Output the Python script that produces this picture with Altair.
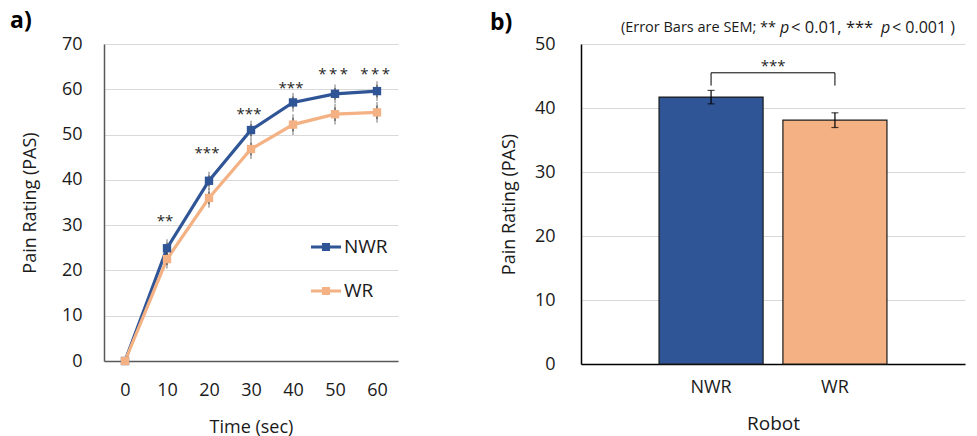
import altair as alt
import pandas as pd

# ---------------- data ----------------
times = [0, 10, 20, 30, 40, 50, 60]
nwr_mean = [0, 24.9, 39.8, 51.0, 57.1, 59.0, 59.6]
wr_mean = [0, 22.5, 36.0, 46.8, 52.2, 54.5, 54.9]
nwr_sem = [0, 1.2, 1.2, 1.3, 1.3, 1.3, 1.4]
wr_sem = [0, 1.3, 1.4, 1.4, 1.5, 1.5, 1.5]
groups = ["NWR", "WR"]
colors = ["#2F5597", "#F4B183"]

sig_times = [10, 20, 30, 40, 50, 60]
sig_labels = ["**", "***", "***", "***", "*\u2009*\u2009*", "*\u2009*\u2009*"]
sig_y = [31.6, 46.6, 55.2, 61.0, 64.1, 64.1]

bar_means = [41.7, 38.1]
bar_sem = [1.05, 1.15]
bracket_low = 43.5
bracket_high = 45.5
bracket_label_y = 47.0

FONT = "Open Sans"

# ---------------- panel a ----------------
rows = []
for g, m, s in [("NWR", nwr_mean, nwr_sem), ("WR", wr_mean, wr_sem)]:
    for t, v, e in zip(times, m, s):
        rows.append({"Time": t, "Group": g, "Mean": v, "Lo": v - e, "Hi": v + e, "SEM": e})
df_a = pd.DataFrame(rows)
df_err = df_a[df_a["SEM"] > 0]
df_sig = pd.DataFrame({"Time": sig_times, "Label": sig_labels, "Y": sig_y})

xa = alt.X("Time:Q", scale=alt.Scale(domain=[-5, 65], nice=False, zero=False),
           axis=alt.Axis(values=times, title="Time (sec)", grid=False, ticks=False,
                         labelFontSize=18, labelPadding=20, titleFontSize=18,
                         titlePadding=19, titleFontWeight="normal",
                         domainColor="#595959", domainWidth=1.5,
                         labelColor="#1a1a1a", titleColor="#1a1a1a"))
ya_scale = alt.Scale(domain=[0, 70], nice=False)
ya_axis = alt.Axis(values=[0, 10, 20, 30, 40, 50, 60, 70], title="Pain Rating (PAS)",
                   grid=True, gridColor="#d9d9d9", ticks=False, labelFontSize=18,
                   labelPadding=22, titleFontSize=18, titlePadding=22,
                   titleFontWeight="normal", domainColor="#595959", domainWidth=1.5,
                   labelColor="#1a1a1a", titleColor="#1a1a1a")

legend_a = alt.Legend(title=None, orient="none", legendX=207, legendY=188,
                      symbolType="M-1,-0.1H1V0.1H-1Z M-0.27,-0.27H0.27V0.27H-0.27Z",
                      symbolSize=900, symbolStrokeWidth=0, labelFontSize=19,
                      labelColor="#1a1a1a", rowPadding=19, labelOffset=3, padding=0,
                      symbolOpacity=1)
color_scale = alt.Scale(domain=groups, range=colors)

base_a = alt.Chart(df_a)
lines = base_a.mark_line(strokeWidth=3.2).encode(
    x=xa, y=alt.Y("Mean:Q", scale=ya_scale, axis=ya_axis),
    stroke=alt.Stroke("Group:N", scale=color_scale, legend=legend_a),
    detail="Group:N")
errs = alt.Chart(df_err).mark_rule(color="#404040", strokeWidth=1).encode(
    x="Time:Q", y="Lo:Q", y2="Hi:Q")
caps_lo = alt.Chart(df_err).mark_tick(color="#404040", thickness=1, size=7).encode(
    x="Time:Q", y="Lo:Q")
caps_hi = alt.Chart(df_err).mark_tick(color="#404040", thickness=1, size=7).encode(
    x="Time:Q", y="Hi:Q")
points = base_a.mark_square(size=70, opacity=1, filled=True).encode(
    x="Time:Q", y="Mean:Q",
    fill=alt.Fill("Group:N", scale=color_scale, legend=legend_a))
sig = alt.Chart(df_sig).mark_text(fontSize=15, font=FONT, color="#262626",
                                  baseline="alphabetic", dy=8, dx=-2).encode(
    x="Time:Q", y="Y:Q", text="Label:N")
label_a = alt.Chart(pd.DataFrame({"t": ["a)"]})).mark_text(
    fontSize=23, fontWeight="bold", font=FONT, align="left", baseline="middle",
    color="black").encode(x=alt.value(-94), y=alt.value(-23), text="t:N")

panel_a = alt.layer(lines, errs, caps_lo, caps_hi, points, sig, label_a).properties(
    width=294, height=317)

# ---------------- panel b ----------------
df_b = pd.DataFrame({"Robot": groups, "Mean": bar_means,
                     "Lo": [m - s for m, s in zip(bar_means, bar_sem)],
                     "Hi": [m + s for m, s in zip(bar_means, bar_sem)]})
df_br = pd.DataFrame({"Robot": ["NWR", "NWR", "WR", "WR"],
                      "Y": [bracket_low, bracket_high, bracket_high, bracket_low],
                      "o": [0, 1, 2, 3]})

xb = alt.X("Robot:N", sort=groups,
           scale=alt.Scale(paddingInner=0.16, paddingOuter=0.63),
           axis=alt.Axis(title="Robot", labelAngle=0, ticks=False, labelFontSize=18,
                         labelPadding=14, titleFontSize=19, titlePadding=18,
                         titleFontWeight="normal", domainColor="black", domainWidth=1.5,
                         labelColor="#1a1a1a", titleColor="#1a1a1a"))
yb = alt.Y("Mean:Q", scale=alt.Scale(domain=[0, 50], nice=False),
           axis=alt.Axis(values=[0, 10, 20, 30, 40, 50], title="Pain Rating (PAS)",
                         grid=True, gridColor="#d9d9d9", ticks=False, labelFontSize=18,
                         labelPadding=26, titleFontSize=18, titlePadding=16,
                         titleFontWeight="normal", domainColor="black", domainWidth=1.5,
                         labelColor="#1a1a1a", titleColor="#1a1a1a"))

bars = alt.Chart(df_b).mark_bar(stroke="#1a1a1a", strokeWidth=1.2).encode(
    x=xb, y=yb,
    color=alt.Color("Robot:N", scale=alt.Scale(domain=groups, range=colors), legend=None))
berr = alt.Chart(df_b).mark_rule(color="black", strokeWidth=1.2).encode(
    x="Robot:N", y="Lo:Q", y2="Hi:Q")
bcap_lo = alt.Chart(df_b).mark_tick(color="black", thickness=1.2, size=7).encode(
    x="Robot:N", y="Lo:Q")
bcap_hi = alt.Chart(df_b).mark_tick(color="black", thickness=1.2, size=7).encode(
    x="Robot:N", y="Hi:Q")
bracket = alt.Chart(df_br).mark_line(color="black", strokeWidth=1, interpolate="linear").encode(
    x="Robot:N", y="Y:Q", order="o:Q")
bracket_txt = alt.Chart(pd.DataFrame({"Robot": ["NWR"], "Y": [bracket_label_y], "t": ["***"]})).mark_text(
    fontSize=15, font=FONT, color="#262626", baseline="alphabetic", dy=8, dx=62).encode(
    x="Robot:N", y="Y:Q", text="t:N")

one = pd.DataFrame({"k": [0]})
def note(text, x, align, size=15, italic=False):
    return alt.Chart(one).mark_text(
        fontSize=size, font=FONT, align=align, baseline="middle", color="#1a1a1a",
        fontStyle="italic" if italic else "normal").encode(
        x=alt.value(x), y=alt.value(-16), text=alt.value(text))

notes = [
    note("(Error Bars are SEM; **", 195, "right", 14.5),
    note("p", 199, "left", 16, True),
    note("< 0.01, ***", 210, "left", 16.5),
    note("p", 300, "left", 16, True),
    note("< 0.001  )", 311, "left", 16),
]
label_b = alt.Chart(one).mark_text(
    fontSize=23, fontWeight="bold", font=FONT, align="left", baseline="middle",
    color="black").encode(x=alt.value(-91), y=alt.value(-21), text=alt.value("b)"))

panel_b = alt.layer(bars, berr, bcap_lo, bcap_hi, bracket, bracket_txt, *notes, label_b).properties(
    width=384, height=320)

chart = alt.hconcat(panel_a, panel_b, spacing=92).resolve_scale(
    color="independent", fill="independent", stroke="independent"
).resolve_legend(
    color="independent", fill="independent", stroke="independent"
).configure(
    font=FONT, padding={"left": 10, "top": 10, "right": 5, "bottom": 5}
).configure_view(stroke=None)

chart.save("out.html", embed_options={"renderer": "svg", "actions": False})
